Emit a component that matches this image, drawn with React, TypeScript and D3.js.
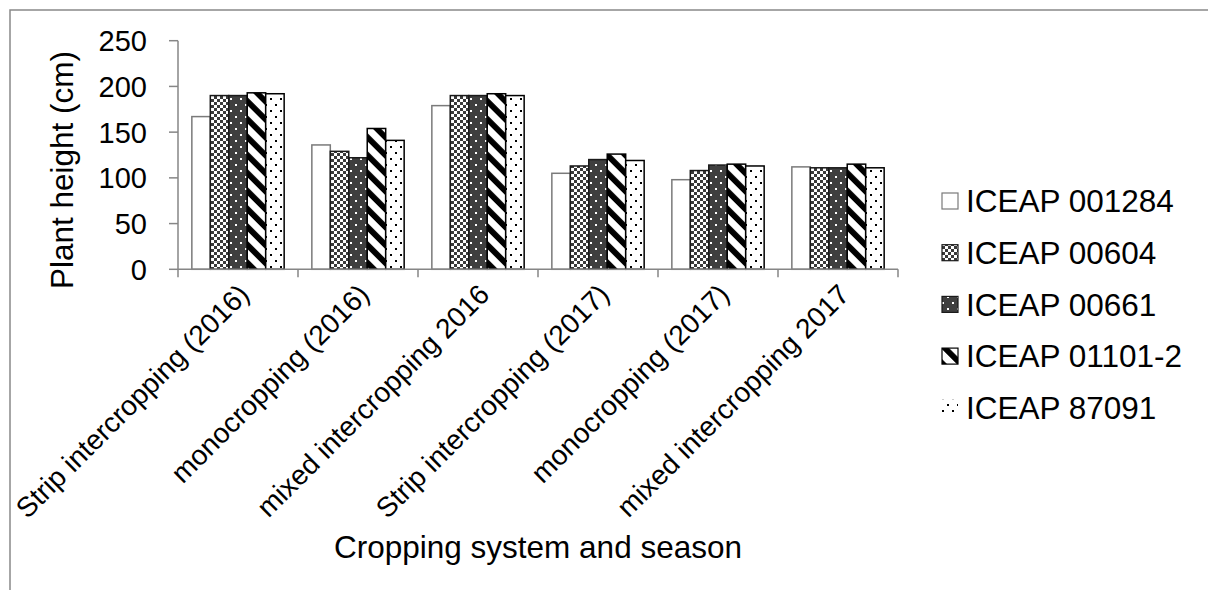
import React from "react";
import * as d3 from "d3";

const categories = [
  "Strip intercropping (2016)",
  "monocropping (2016)",
  "mixed intercropping 2016",
  "Strip intercropping (2017)",
  "monocropping (2017)",
  "mixed intercropping 2017",
];
const seriesNames = ["ICEAP 001284", "ICEAP 00604", "ICEAP 00661", "ICEAP 01101-2", "ICEAP 87091"];
const iceap001284 = [167, 136, 179, 105, 98, 112];
const iceap00604 = [190, 129, 190, 113, 108, 111];
const iceap00661 = [190, 122, 190, 120, 114, 111];
const iceap01101 = [193, 154, 192, 126, 115, 115];
const iceap87091 = [192, 141, 190, 119, 113, 111];
const yTicks = [0, 50, 100, 150, 200, 250];

const seriesValues = [iceap001284, iceap00604, iceap00661, iceap01101, iceap87091];

const W = 1208;
const H = 590;
const plot = { left: 178, right: 898, top: 40.7, bottom: 269.3 };
const FONT = "'Liberation Sans', Arial, sans-serif";
const AXIS = "#868686";

const fills = ["#ffffff", "url(#pChecker)", "url(#pDarkDots)", "url(#pStripe)", "url(#pDots)"];
const strokes = ["#7a7a7a", "#1a1a1a", "#1a1a1a", "#000000", "#000000"];

export default function App() {
  const x = d3.scaleBand<string>().domain(categories).range([plot.left, plot.right]).padding(0);
  const cat = x.bandwidth();
  const gap = (cat / 6.5) * 1.5;
  const xs = d3
    .scaleBand<number>()
    .domain(d3.range(seriesNames.length))
    .range([gap / 2, cat - gap / 2])
    .padding(0);
  const y = d3.scaleLinear().domain([0, 250]).range([plot.bottom, plot.top]);

  const boundaries = d3.range(categories.length + 1).map((i) => plot.left + i * cat);
  const legendY = (i: number) => 201 + i * 51.7;

  return (
    <svg
      width={W}
      height={H}
      style={{ position: "absolute", left: 0, top: 0, background: "#fff" }}
      fontFamily={FONT}
    >
      <defs>
        <pattern id="pChecker" width={6} height={6} patternUnits="userSpaceOnUse">
          <rect width={6} height={6} fill="#fff" />
          <rect width={3} height={3} fill="#3a3a3a" />
          <rect x={3} y={3} width={3} height={3} fill="#3a3a3a" />
        </pattern>
        <pattern id="pDarkDots" width={10} height={12} patternUnits="userSpaceOnUse">
          <rect width={10} height={12} fill="#3f3f3f" />
          <rect x={2} y={2} width={2} height={2} fill="#fff" />
          <rect x={7} y={8} width={2} height={2} fill="#fff" />
        </pattern>
        <pattern id="pDots" width={10} height={12} patternUnits="userSpaceOnUse">
          <rect width={10} height={12} fill="#fff" />
          <rect x={2} y={2} width={2} height={2} fill="#000" />
          <rect x={7} y={8} width={2} height={2} fill="#000" />
        </pattern>
        <pattern
          id="pStripe"
          width={12.7}
          height={12.7}
          patternUnits="userSpaceOnUse"
          patternTransform="rotate(-45)"
        >
          <rect width={12.7} height={12.7} fill="#fff" />
          <rect width={5.8} height={12.7} fill="#000" />
        </pattern>
      </defs>

      {/* outer chart frame */}
      <rect x={10} y={10} width={1400} height={800} fill="none" stroke="#898989" strokeWidth={1.5} />

      {/* bars */}
      {categories.map((c, ci) => (
        <g key={c} transform={`translate(${x(c)},0)`}>
          {seriesValues.map((vals, si) => (
            <rect
              key={si}
              x={xs(si)}
              y={y(vals[ci])}
              width={xs.bandwidth()}
              height={y(0) - y(vals[ci])}
              fill={fills[si]}
              stroke={strokes[si]}
              strokeWidth={1.5}
            />
          ))}
        </g>
      ))}

      {/* y axis */}
      <line x1={plot.left} x2={plot.left} y1={y(250)} y2={plot.bottom} stroke={AXIS} strokeWidth={1.5} />
      {yTicks.map((t) => (
        <g key={t}>
          <line x1={plot.left - 9} x2={plot.left} y1={y(t)} y2={y(t)} stroke={AXIS} strokeWidth={1.5} />
          <text x={147} y={y(t)} dy="0.36em" textAnchor="end" fontSize={29} fill="#000">
            {t}
          </text>
        </g>
      ))}

      {/* x axis */}
      <line x1={plot.left} x2={plot.right} y1={plot.bottom} y2={plot.bottom} stroke={AXIS} strokeWidth={1.5} />
      {boundaries.map((b, i) => (
        <line key={i} x1={b} x2={b} y1={plot.bottom} y2={plot.bottom + 8} stroke={AXIS} strokeWidth={1.5} />
      ))}
      {categories.map((c) => {
        const cx = (x(c) as number) + cat / 2;
        return (
          <text
            key={c}
            transform={`translate(${cx + 6},${plot.bottom + 20}) rotate(-45)`}
            textAnchor="end"
            dy="0.35em"
            fontSize={28}
            fill="#000"
          >
            {c}
          </text>
        );
      })}

      {/* axis titles */}
      <text
        transform={`translate(73,170) rotate(-90)`}
        textAnchor="middle"
        fontSize={31.5}
        fill="#000"
      >
        Plant height (cm)
      </text>
      <text x={(plot.left + plot.right) / 2} y={558} textAnchor="middle" fontSize={31.5} fill="#000">
        Cropping system and season
      </text>

      {/* legend */}
      {seriesNames.map((n, i) => (
        <g key={n}>
          <rect
            x={942}
            y={legendY(i) - 8}
            width={16}
            height={16}
            fill={fills[i]}
            stroke={i === 4 ? "none" : strokes[i]}
            strokeWidth={1.2}
          />
          <text x={966} y={legendY(i)} dy="0.36em" fontSize={31.5} fill="#000">
            {n}
          </text>
        </g>
      ))}
    </svg>
  );
}
